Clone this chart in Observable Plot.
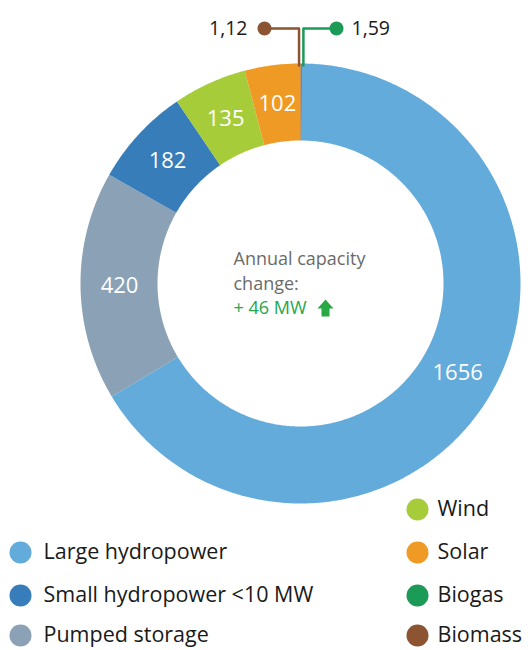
<!DOCTYPE html>
<html><head><meta charset="utf-8">
<script src="https://cdn.jsdelivr.net/npm/d3@7"></script>
<script src="https://cdn.jsdelivr.net/npm/@observablehq/plot@0.6"></script>
<style>body{margin:0;background:#fff}</style>
</head><body><div id="chart"></div>
<script>
// ---- data ----
const categories = ["Large hydropower","Pumped storage","Small hydropower <10 MW","Wind","Solar","Biomass","Biogas"];
const values = [1656, 420, 182, 135, 102, 1.12, 1.59];
const valueLabels = ["1656","420","182","135","102","1,12","1,59"];
const colors = ["#62abdb","#8aa1b6","#367db9","#a6cd39","#ee9a25","#8c5430","#1b9a58"];
const legendLeft = ["Large hydropower","Small hydropower <10 MW","Pumped storage"];
const legendRight = ["Wind","Solar","Biogas","Biomass"];
const centerLines = ["Annual capacity","change:"];
const changeLabel = "+ 46 MW";

// ---- layout ----
const W = 530, H = 650, CX = 300, CY = 283, R = 220, r = 143, RL = 181;
const px = v => v - CX;         // pixel x -> data x
const py = v => CY - v;         // pixel y -> data y
const rot = 0.4 * Math.PI / 180;

const rows = categories.map((c, i) => ({name: c, value: values[i], label: valueLabels[i]}));
const arcs = d3.pie().sort(null).value(d => d.value).startAngle(rot).endAngle(rot + 2 * Math.PI)(rows);

const poly = [];
arcs.forEach(a => {
  const n = Math.max(2, Math.ceil((a.endAngle - a.startAngle) / 0.01));
  for (let i = 0; i <= n; i++) {
    const t = a.startAngle + (a.endAngle - a.startAngle) * i / n;
    poly.push({name: a.data.name, x: R * Math.sin(t), y: R * Math.cos(t)});
  }
  for (let i = n; i >= 0; i--) {
    const t = a.startAngle + (a.endAngle - a.startAngle) * i / n;
    poly.push({name: a.data.name, x: r * Math.sin(t), y: r * Math.cos(t)});
  }
});

const mid = a => (a.startAngle + a.endAngle) / 2;
const bigLabels = arcs.filter(a => a.data.value > 50).map(a => ({
  text: a.data.label, x: RL * Math.sin(mid(a)), y: RL * Math.cos(mid(a))
}));

// callouts for the tiny slices
const small = arcs.filter(a => a.data.value < 50);
const callLines = [], callDots = [], callTextL = [], callTextR = [];
const topY = py(28);
small.forEach(a => {
  const left = a.data.name === "Biomass";
  const dir = left ? -1 : 1;
  const xo = R * Math.sin(mid(a)) + dir * 1.8;
  const xd = dir * 36;
  callLines.push({name: a.data.name, x: xo, y: R * Math.cos(mid(a)) - 2});
  callLines.push({name: a.data.name, x: xo, y: topY});
  callLines.push({name: a.data.name, x: xd, y: topY});
  callDots.push({name: a.data.name, x: xd, y: topY});
  (left ? callTextL : callTextR).push({text: a.data.label, x: xd + dir * (left ? 17 : 15), y: topY});
});

// legend
const legend = [
  ...legendLeft.map((n, i) => ({name: n, x: px(20), tx: px(43), y: py([552, 595, 635][i])})),
  ...legendRight.map((n, i) => ({name: n, x: px(417), tx: px(437), y: py([509, 552, 595, 635][i])}))
];

// arrow glyph (relative shape)
const arrowShape = [[0,0],[8,9],[4,9],[4,17],[-4,17],[-4,9],[-8,9]];
const arrow = arrowShape.map(([dx, dy]) => ({x: px(325 + dx), y: py(299 + dy)}));

const font = "'Open Sans', 'Noto Sans', sans-serif";
const chart = Plot.plot({
  width: W, height: H, margin: 0,
  x: {domain: [-CX, W - CX], axis: null},
  y: {domain: [CY - H, CY], axis: null},
  color: {domain: categories, range: colors},
  style: {fontFamily: font, background: "#fff"},
  marks: [
    Plot.line(poly, {x: "x", y: "y", z: "name", fill: "name", stroke: "none", curve: "linear"}),
    Plot.text(bigLabels, {x: "x", y: "y", text: "text", fill: "white", fontSize: 22}),
    Plot.line(callLines, {x: "x", y: "y", z: "name", stroke: "name", strokeWidth: 2.5, curve: "linear"}),
    Plot.dot(callDots, {x: "x", y: "y", r: 7, fill: "name"}),
    Plot.text(callTextL, {x: "x", y: "y", text: "text", textAnchor: "end", fontSize: 19.5, fill: "#1a1a1a"}),
    Plot.text(callTextR, {x: "x", y: "y", text: "text", textAnchor: "start", fontSize: 19.5, fill: "#1a1a1a"}),
    Plot.text(centerLines, {x: px(233), y: (d, i) => py(259 + 25 * i), text: d => d, textAnchor: "start", fontSize: 18, fill: "#6b6b6b"}),
    Plot.text([changeLabel], {x: px(233), y: py(308), text: d => d, textAnchor: "start", fontSize: 18, fill: "#22a84e"}),
    Plot.line(arrow, {x: "x", y: "y", fill: "#2aa845", stroke: "none", curve: "linear"}),
    Plot.dot(legend, {x: "x", y: "y", r: 11, fill: "name"}),
    Plot.text(legend, {x: "tx", y: "y", text: "name", textAnchor: "start", fontSize: 21.5, fill: "#1a1a1a"})
  ]
});
document.getElementById("chart").appendChild(chart);
</script>
</body></html>
